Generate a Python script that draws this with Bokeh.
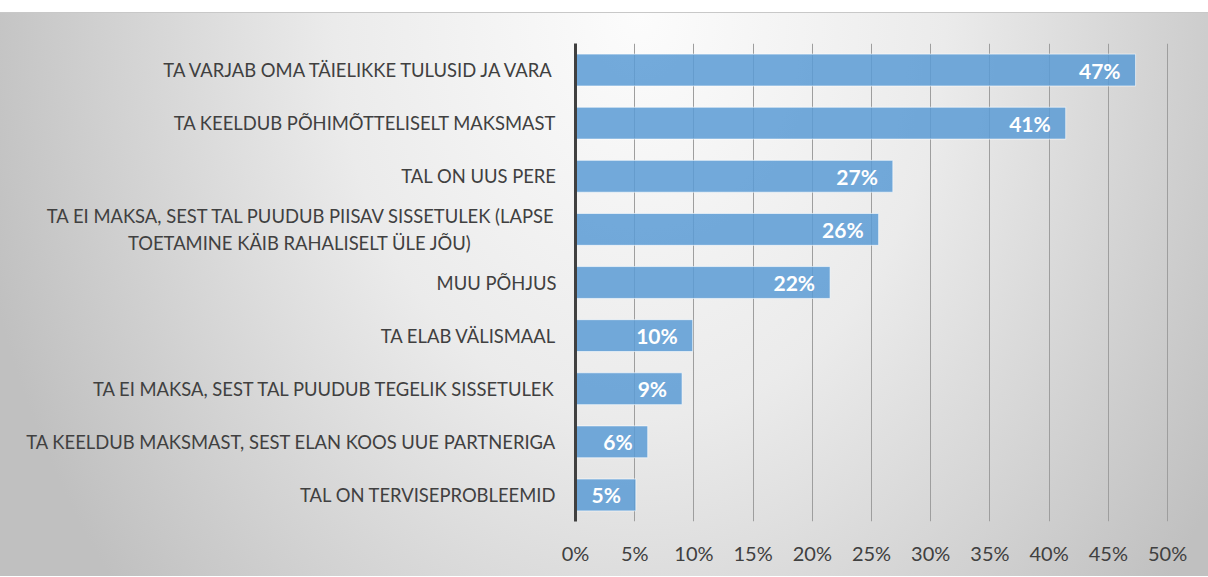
from bokeh.plotting import figure
from bokeh.models import ColumnDataSource, NumeralTickFormatter, FixedTicker, Range1d
from bokeh.core.properties import value
from bokeh.embed import file_html
from bokeh.resources import INLINE

NBSP = "\u00a0"
categories = [
    "TA VARJAB OMA TÄIELIKKE TULUSID JA VARA",
    "TA KEELDUB PÕHIMÕTTELISELT MAKSMAST",
    "TAL ON UUS PERE",
    "TA EI MAKSA, SEST TAL PUUDUB PIISAV SISSETULEK (LAPSE\nTOETAMINE KÄIB RAHALISELT ÜLE JÕU)" + NBSP * 18,
    "MUU PÕHJUS",
    "TA ELAB VÄLISMAAL",
    "TA EI MAKSA, SEST TAL PUUDUB TEGELIK SISSETULEK",
    "TA KEELDUB MAKSMAST, SEST ELAN KOOS UUE PARTNERIGA",
    "TAL ON TERVISEPROBLEEMID",
]
values = [0.473, 0.414, 0.268, 0.256, 0.215, 0.099, 0.090, 0.061, 0.051]
value_labels = ["47%", "41%", "27%", "26%", "22%", "10%", "9%", "6%", "5%"]
tick_values = [0, 0.05, 0.10, 0.15, 0.20, 0.25, 0.30, 0.35, 0.40, 0.45, 0.50]

FONT = "Lato"
TEXT_COLOR = "#404040"

factors = list(reversed(categories))

p = figure(
    width=1208, height=564,
    y_range=factors,
    x_range=Range1d(0, 0.5008),
    output_backend="svg",
    toolbar_location=None,
    min_border_left=575, min_border_right=40,
    min_border_top=30, min_border_bottom=56,
)
p.styles = {
    "margin-top": "12px",
    "border-top": "1px solid #c8c8c8",
    "background": "radial-gradient(ellipse 680px 900px at 640px 0px, #fcfcfc 0%, #ebebeb 45%, #c0c0c0 100%)",
}
p.background_fill_color = None
p.border_fill_color = None
p.outline_line_color = None

src = ColumnDataSource(dict(cat=categories, val=values, lab=value_labels))
p.hbar(y="cat", right="val", left=0, height=0.6, source=src,
       fill_color="#5b9bd5", fill_alpha=0.85,
       line_color="#ffffff", line_alpha=0.6, line_width=1)

p.text(x="val", y="cat", text="lab", source=src,
       text_align="right", text_baseline="middle", x_offset=-15,
       text_color="#ffffff", text_font=value(FONT), text_font_style="bold",
       text_font_size="21px")

p.xaxis.ticker = FixedTicker(ticks=tick_values)
p.xaxis.formatter = NumeralTickFormatter(format="0%")
p.xaxis.axis_line_color = None
p.xaxis.major_tick_line_color = None
p.xaxis.minor_tick_line_color = None
p.xaxis.major_label_standoff = 13
p.xaxis.major_label_text_font = FONT
p.xaxis.major_label_text_font_size = "20px"
p.xaxis.major_label_text_color = TEXT_COLOR

p.yaxis.major_label_standoff = 13
p.yaxis.major_label_text_font = FONT
p.yaxis.major_label_text_font_size = "18.4px"
p.yaxis.major_label_text_color = TEXT_COLOR
p.yaxis.major_label_text_line_height = 1.25
p.yaxis.major_tick_line_color = None
p.yaxis.minor_tick_line_color = None
p.yaxis.axis_line_color = "#404040"
p.yaxis.axis_line_width = 3

p.xgrid.grid_line_color = "#9e9e9e"
p.xgrid.grid_line_width = 1
p.ygrid.grid_line_color = None

open("out.html", "w").write(file_html(p, INLINE))
